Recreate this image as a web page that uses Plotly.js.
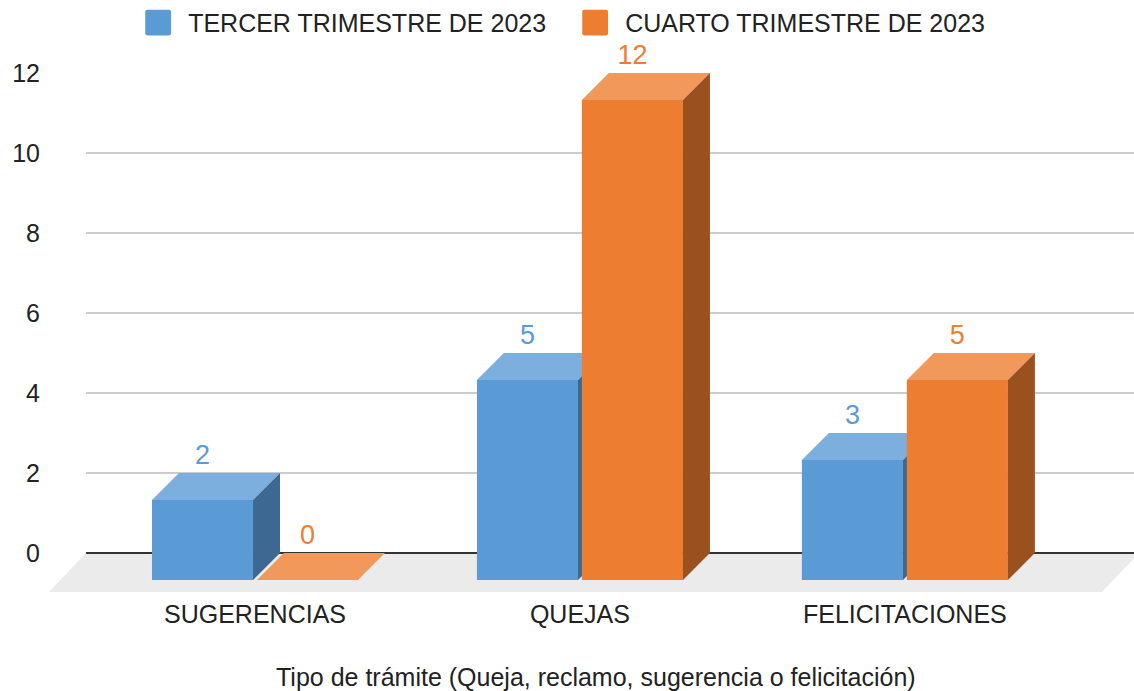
<!DOCTYPE html>
<html><head><meta charset="utf-8">
<script src="https://cdn.plot.ly/plotly-3.0.1.min.js"></script>
<style>html,body{margin:0;padding:0;background:#fff;} #chart{width:1134px;height:691px;}</style>
</head><body><div id="chart"></div>
<script>
// ---- data ----
const categories = ['SUGERENCIAS', 'QUEJAS', 'FELICITACIONES'];
const seriesNames = ['TERCER TRIMESTRE DE 2023', 'CUARTO TRIMESTRE DE 2023'];
const q3Values = [2, 5, 3];
const q4Values = [0, 12, 5];
const yTickVals = [0, 2, 4, 6, 8, 10, 12];
const xTitleText = 'Tipo de trámite (Queja, reclamo, sugerencia o felicitación)';

// ---- styling / geometry (not data) ----
const FONT = 'Arial, "Liberation Sans", sans-serif';
const BAR_W = 0.311, GAP = 0.012, DX = 0.083, DY = 0.675;
const XR = [-0.52, 2.705], YR = [-1, 12];
const FLOOR = {topL: -0.52, topR: 2.72, botL: -0.634, botR: 2.606, depth: -0.975};
const COLORS = [
  {front: '#5B9BD5', top: '#7CAFDE', side: '#3C6891'},
  {front: '#ED7D31', top: '#F1985B', side: '#9A501F'}
];

function buildSeries(vals, idx, sign, xa, ya) {
  const col = COLORS[idx];
  const centers = vals.map((v, i) => i + sign * (BAR_W / 2 + GAP / 2));
  const top = {x: [], y: []}, side = {x: [], y: []};
  vals.forEach((v, i) => {
    const l = centers[i] - BAR_W / 2, r = centers[i] + BAR_W / 2;
    top.x.push(l, r, r + DX, l + DX, l, null);
    top.y.push(v - DY, v - DY, v, v, v - DY, null);
    side.x.push(r, r + DX, r + DX, r, r, null);
    side.y.push(-DY, 0, v, v - DY, -DY, null);
  });
  return [
    {type: 'bar', name: seriesNames[idx], x: centers, y: vals, base: vals.map(() => -DY),
     width: BAR_W, marker: {color: col.front, line: {width: 0}}, xaxis: xa, yaxis: ya,
     hoverinfo: 'skip', showlegend: true},
    {type: 'scatter', mode: 'none', x: top.x, y: top.y, fill: 'toself', fillcolor: col.top,
     xaxis: xa, yaxis: ya, hoverinfo: 'skip', showlegend: false},
    {type: 'scatter', mode: 'none', x: side.x, y: side.y, fill: 'toself', fillcolor: col.side,
     xaxis: xa, yaxis: ya, hoverinfo: 'skip', showlegend: false},
    {type: 'scatter', mode: 'markers+text', x: centers, y: vals, text: vals.map(String),
     marker: {size: 2, color: 'rgba(0,0,0,0)'},
     textposition: 'top center', textfont: {family: FONT, size: 27, color: col.front},
     cliponaxis: false, xaxis: xa, yaxis: ya, hoverinfo: 'skip', showlegend: false}
  ];
}

const traces = [].concat(
  buildSeries(q3Values, 0, -1, 'x', 'y'),
  buildSeries(q4Values, 1, 1, 'x2', 'y2')
);

const px = v => (v - XR[0]) / (XR[1] - XR[0]);
const py = v => (v - YR[0]) / (YR[1] - YR[0]);
const floorPath = `M${px(FLOOR.topL)},${py(0)} L${px(FLOOR.topR)},${py(0)} L${px(FLOOR.botR)},${py(FLOOR.depth)} L${px(FLOOR.botL)},${py(FLOOR.depth)} Z`;

const layout = {
  width: 1134, height: 691,
  margin: {l: 86, r: 0, t: 73, b: 98},
  paper_bgcolor: '#ffffff', plot_bgcolor: 'rgba(0,0,0,0)',
  font: {family: FONT, size: 25, color: '#222222'},
  barmode: 'overlay',
  showlegend: true,
  legend: {orientation: 'h', xref: 'container', yref: 'container', x: 0.113, y: 0.967,
           xanchor: 'left', yanchor: 'middle', font: {family: FONT, size: 25, color: '#222222'},
           itemwidth: 50, entrywidth: 372, entrywidthmode: 'pixels', bgcolor: 'rgba(0,0,0,0)'},
  xaxis: {range: XR, tickvals: [0, 1, 2], ticktext: categories, showgrid: false, zeroline: false,
          showline: false, ticks: '', ticklabelstandoff: 4, fixedrange: true,
          tickfont: {family: FONT, size: 25, color: '#222222'}},
  yaxis: {range: YR, tickvals: yTickVals, showgrid: true, gridcolor: '#cccccc', gridwidth: 1.5,
          zeroline: true, zerolinecolor: '#333333', zerolinewidth: 1.5, showline: false, ticks: '',
          ticklabelstandoff: 45, fixedrange: true,
          tickfont: {family: FONT, size: 25, color: '#222222'}},
  xaxis2: {range: XR, overlaying: 'x', anchor: 'y2', visible: false, fixedrange: true},
  yaxis2: {range: YR, overlaying: 'y', anchor: 'x2', visible: false, fixedrange: true},
  shapes: [{type: 'path', xref: 'paper', yref: 'paper', path: floorPath, fillcolor: '#EBEBEB',
            line: {width: 0}, layer: 'below'}],
  annotations: [{text: xTitleText, xref: 'paper', yref: 'paper', x: 0.4866, y: -0.1615,
                 xanchor: 'center', yanchor: 'middle', showarrow: false,
                 font: {family: FONT, size: 25, color: '#222222'}}]
};

Plotly.newPlot('chart', traces, layout, {displayModeBar: false, staticPlot: true}).then(gd => {
  gd.querySelectorAll('.legend .legendpoints path').forEach(p => {
    p.setAttribute('d', 'M-5,-6H5A1,1 0 0 1 6,-5V5A1,1 0 0 1 5,6H-5A1,1 0 0 1 -6,5V-5A1,1 0 0 1 -5,-6Z');
    p.setAttribute('transform', (p.getAttribute('transform') || '') + ' scale(2.15)');
  });
});
</script></body></html>
